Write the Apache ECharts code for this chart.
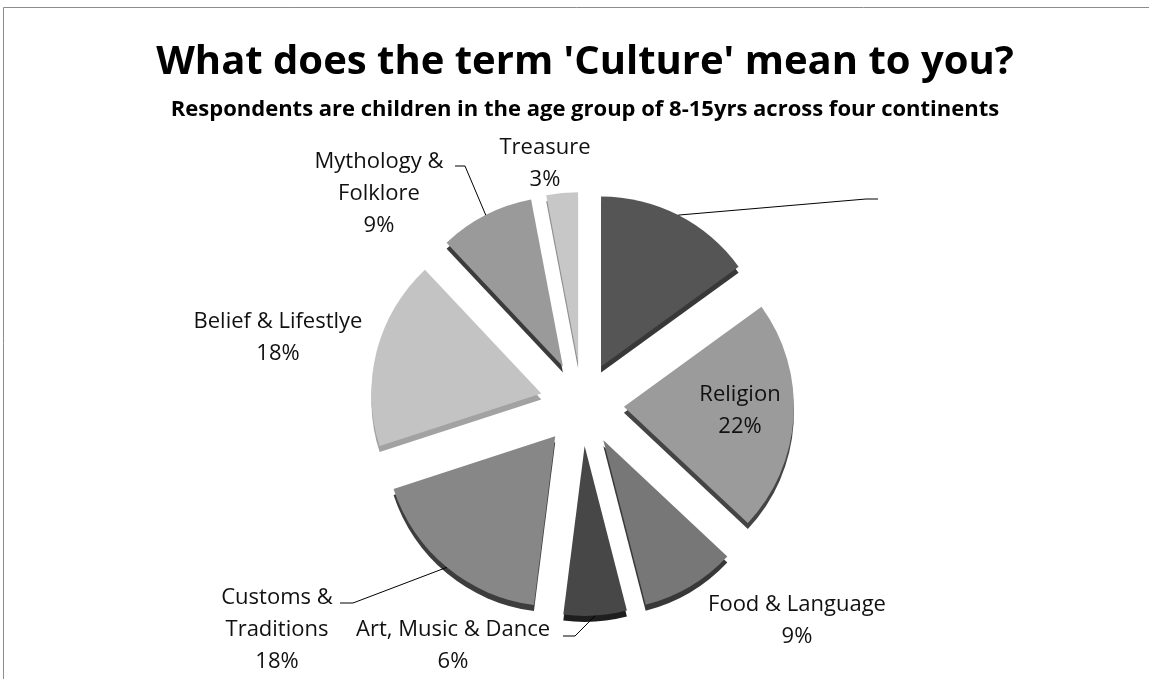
<!DOCTYPE html>
<html>
<head>
<meta charset="utf-8">
<script src="https://cdn.jsdelivr.net/npm/echarts@6/dist/echarts.min.js"></script>
<style>
  html, body { margin: 0; padding: 0; background: #ffffff; }
  #chart { width: 1149px; height: 679px; }
</style>
</head>
<body>
<div id="chart"></div>
<script>
// Survey answers, clockwise from twelve o'clock
const categories = ['Unlabelled', 'Religion', 'Food & Language', 'Art, Music & Dance',
  'Customs &\nTraditions', 'Belief & Lifestlye', 'Mythology &\nFolklore', 'Treasure'];
const shares = [15, 22, 9, 6, 18, 18, 9, 3];
const titleText = "What does the term 'Culture' mean to you?";
const subtitleText = 'Respondents are children in the age group of 8-15yrs across four continents';

// Top-face and side-face shades for each slice
const faceColors = ['#555555', '#9b9b9b', '#777777', '#474747', '#878787', '#c3c3c3', '#9a9a9a', '#c7c7c7'];
const sideColors = ['#383838', '#444444', '#383838', '#1e1e1e', '#3d3d3d', '#a2a2a2', '#3b3b3b', '#8e8e8e'];

// Pie geometry (px)
const CX = 582, CY = 404, R = 170, EXPLODE = 42, DEPTH = 6;

// Where each label block sits, plus the elbow of its leader line
const labelPlacement = [
  { x: 884, y: 199, elbow: [[866, 199], [878, 199]] },
  { x: 740, y: 411 },
  { x: 797, y: 621 },
  { x: 453, y: 646, elbow: [[575, 636], [563, 636]] },
  { x: 277, y: 630, elbow: [[353, 603], [340, 603]] },
  { x: 278, y: 338 },
  { x: 379, y: 194, elbow: [[465, 166], [455, 166]] },
  { x: 545, y: 164 }
];

const FONT = '"Open Sans", Lato, sans-serif';

const pieBase = {
  type: 'pie',
  startAngle: 90,
  clockwise: true,
  emphasis: { disabled: true },
  animation: false
};

function slices(colors) {
  return categories.map((name, i) => ({
    name: name,
    value: shares[i],
    selected: true,
    itemStyle: { color: colors[i] }
  }));
}

const labelData = categories.map((name, i) => ({
  name: name,
  value: shares[i],
  itemStyle: { color: 'rgba(0,0,0,0)' },
  labelLine: { show: !!labelPlacement[i].elbow }
}));

const chart = echarts.init(document.getElementById('chart'), null, { renderer: 'canvas' });

chart.setOption({
  backgroundColor: '#ffffff',
  animation: false,
  graphic: [{
    type: 'rect',
    shape: { x: 3.5, y: 7.5, width: 1400, height: 900 },
    style: { fill: 'none', stroke: '#8c8c8c', lineWidth: 1 },
    silent: true,
    z: -10
  }],
  title: [{
    text: titleText,
    left: 580,
    textAlign: 'center',
    top: 38,
    textStyle: { fontFamily: FONT, fontWeight: 'bold', fontSize: 40, color: '#000000' }
  }, {
    text: subtitleText,
    left: 580,
    textAlign: 'center',
    top: 94,
    textStyle: { fontFamily: FONT, fontWeight: 'bold', fontSize: 22, color: '#000000' }
  }],
  series: [
    // extruded sides, drawn a few pixels lower than the faces
    Object.assign({}, pieBase, {
      silent: true,
      center: [CX, CY + DEPTH],
      radius: [0, R],
      selectedMode: 'multiple',
      selectedOffset: EXPLODE,
      label: { show: false },
      labelLine: { show: false },
      data: slices(sideColors),
      z: 1
    }),
    // top faces, every slice pulled out from the centre
    Object.assign({}, pieBase, {
      center: [CX, CY],
      radius: [0, R],
      selectedMode: 'multiple',
      selectedOffset: EXPLODE,
      label: { show: false },
      labelLine: { show: false },
      data: slices(faceColors),
      z: 2
    }),
    // labels and leader lines; its rim runs along the pulled-out slice edges
    Object.assign({}, pieBase, {
      silent: true,
      center: [CX, CY],
      radius: [0, R + EXPLODE],
      data: labelData,
      z: 3,
      label: {
        show: true,
        position: 'outside',
        fontFamily: FONT,
        fontSize: 22,
        lineHeight: 32,
        color: '#111111',
        formatter: function (p) {
          if (p.dataIndex === 0) return ' ';
          return p.name + '\n' + Math.round(p.percent) + '%';
        }
      },
      labelLine: {
        show: true,
        lineStyle: { color: '#000000', width: 1 }
      },
      labelLayout: function (p) {
        const spot = labelPlacement[p.dataIndex];
        const out = { x: spot.x, y: spot.y, align: 'center', verticalAlign: 'middle', hideOverlap: false };
        if (spot.elbow && p.labelLinePoints) {
          out.labelLinePoints = [p.labelLinePoints[0]].concat(spot.elbow);
        }
        return out;
      }
    })
  ]
});
</script>
</body>
</html>
